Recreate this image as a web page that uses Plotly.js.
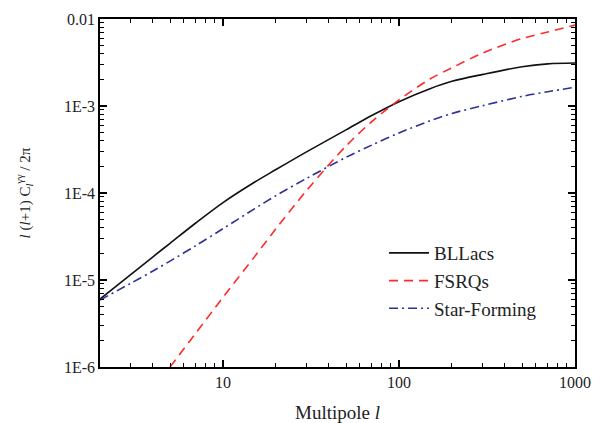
<!DOCTYPE html>
<html>
<head>
<meta charset="utf-8">
<script src="https://cdn.plot.ly/plotly-3.0.1.min.js"></script>
<style>html,body{margin:0;padding:0;background:#fff;}</style>
</head>
<body>
<div id="chart" style="width:601px;height:423px;"></div>
<script>
// Multipole values
const multipoleBL = [2, 3, 4, 5, 7, 10, 15, 20, 30, 50, 70, 100, 150, 200, 300, 500, 700, 1000];
const bllacs = [6.03e-6, 1.16e-5, 1.85e-5, 2.64e-5, 4.52e-5, 7.76e-5, 1.32e-4, 1.86e-4, 2.99e-4, 5.31e-4, 7.76e-4, 1.12e-3, 1.58e-3, 1.92e-3, 2.31e-3, 2.83e-3, 3.05e-3, 3.12e-3];

const multipoleFS = [5, 7, 10, 15, 20, 30, 50, 70, 100, 150, 200, 300, 500, 700, 1000];
const fsrqs = [1.0e-6, 2.45e-6, 6.31e-6, 1.82e-5, 3.89e-5, 1.08e-4, 3.47e-4, 6.61e-4, 1.175e-3, 2.04e-3, 2.75e-3, 4.07e-3, 5.96e-3, 7.08e-3, 8.51e-3];

const multipoleSF = [2, 3, 4, 5, 7, 10, 15, 20, 30, 50, 70, 100, 150, 200, 300, 500, 700, 1000];
const starForming = [5.89e-6, 9.2e-6, 1.27e-5, 1.65e-5, 2.48e-5, 3.89e-5, 6.53e-5, 9.33e-5, 1.48e-4, 2.57e-4, 3.55e-4, 4.9e-4, 6.76e-4, 8.22e-4, 1.01e-3, 1.29e-3, 1.46e-3, 1.64e-3];

const seriesNames = ["BLLacs", "FSRQs", "Star-Forming"];

const xTickVals = [10, 100, 1000];
const xTickText = ["10", "100", "1000"];
const yTickVals = [1e-6, 1e-5, 1e-4, 1e-3, 1e-2];
const yTickText = ["1E-6", "1E-5", "1E-4", "1E-3", "0.01"];

const font = "Liberation Serif, Times New Roman, serif";
const xLimits = [2, 1000];
const yLimits = [1e-6, 1e-2];

const traces = [
  {x: multipoleBL, y: bllacs, name: seriesNames[0], mode: "lines",
   line: {color: "#111111", width: 1.6, shape: "spline", smoothing: 0.9}},
  {x: multipoleFS, y: fsrqs, name: seriesNames[1], mode: "lines",
   line: {color: "#ff2a2a", width: 1.6, dash: "9px,6px", shape: "spline", smoothing: 0.9}},
  {x: multipoleSF, y: starForming, name: seriesNames[2], mode: "lines",
   line: {color: "#2c3196", width: 1.6, dash: "9px,4px,2px,4px", shape: "spline", smoothing: 0.9}}
];

const axisStyle = {
  showline: true, mirror: "allticks", linecolor: "#000", linewidth: 1.5,
  ticks: "inside", ticklen: 7, tickwidth: 1.5, tickcolor: "#000",
  showgrid: false, zeroline: false,
  tickfont: {family: font, size: 16, color: "#222"},
  minor: {dtick: "D1", ticks: "inside", ticklen: 4, tickwidth: 1.2, tickcolor: "#000", showgrid: false}
};

const layout = {
  width: 601, height: 423,
  margin: {l: 100, r: 26, t: 19, b: 56},
  paper_bgcolor: "#fff", plot_bgcolor: "#fff",
  font: {family: font, color: "#222"},
  showlegend: true,
  legend: {x: 0.598, y: 0.382, xanchor: "left", yanchor: "top",
           bgcolor: "rgba(0,0,0,0)", font: {family: font, size: 19, color: "#222"},
           tracegroupgap: 0, itemwidth: 40},
  xaxis: Object.assign({}, axisStyle, {
    type: "log", range: [Math.log10(xLimits[0]), Math.log10(xLimits[1])],
    tickmode: "array", tickvals: xTickVals, ticktext: xTickText,
    title: {text: "Multipole <i>l</i>", font: {family: font, size: 19, color: "#222"}, standoff: 16}
  }),
  yaxis: Object.assign({}, axisStyle, {
    type: "log", range: [Math.log10(yLimits[0]), Math.log10(yLimits[1])],
    tickmode: "array", tickvals: yTickVals, ticktext: yTickText,
    title: {text: "<i>l</i> (<i>l</i>+1) C<sub><i>l</i></sub><sup>γγ</sup> / 2π", font: {family: font, size: 15, color: "#222"}, standoff: 30}
  })
};

Plotly.newPlot("chart", traces, layout, {displayModeBar: false});
</script>
</body>
</html>
